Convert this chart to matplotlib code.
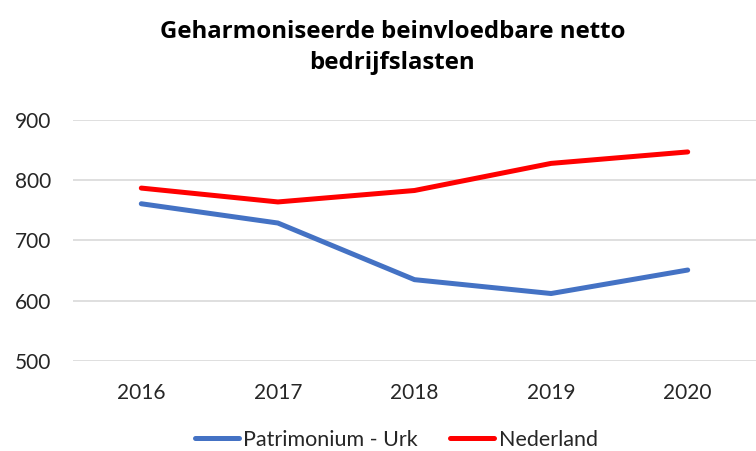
import matplotlib.pyplot as plt

# ---- Data ----
jaren = ["2016", "2017", "2018", "2019", "2020"]
patrimonium = [761, 729, 635, 612, 651]
nederland = [787, 764, 783, 828, 847]

plt.rcParams["font.family"] = ["Lato", "DejaVu Sans"]

fig = plt.figure(figsize=(7.56, 4.51), dpi=100)
ax = fig.add_axes([73 / 756, 1 - 361 / 451, 683 / 756, (361 - 120) / 451])

x = range(len(jaren))
ax.plot(x, patrimonium, color="#4472C4", lw=3.6, label="Patrimonium - Urk", solid_capstyle="round")
ax.plot(x, nederland, color="#FF0000", lw=3.6, label="Nederland", solid_capstyle="round")

ax.set_xlim(-0.5, len(jaren) - 0.5)
ax.set_ylim(500, 900)
ax.set_yticks([500, 600, 700, 800, 900])
ax.set_xticks(list(x))
ax.set_xticklabels(jaren)
ax.tick_params(length=0, labelsize=15, colors="#262626")
ax.tick_params(axis="x", pad=16)
ax.tick_params(axis="y", pad=16)
ax.grid(axis="y", color="#D9D9D9", lw=1.2)
ax.set_axisbelow(True)
for s in ax.spines.values():
    s.set_visible(False)

fig.text(0.519, 0.895, "Geharmoniseerde beinvloedbare netto\nbedrijfslasten",
         ha="center", va="center", fontsize=17.3, fontweight="bold",
         family=["Open Sans", "DejaVu Sans"], linespacing=1.4, color="black")

fig.legend(loc="center", bbox_to_anchor=(0.524, 0.025), ncol=2, frameon=False,
           fontsize=15.5, handlelength=2.05, handletextpad=0.2, columnspacing=1.5,
           labelcolor="#262626")

fig.savefig("out.png", dpi=100)
